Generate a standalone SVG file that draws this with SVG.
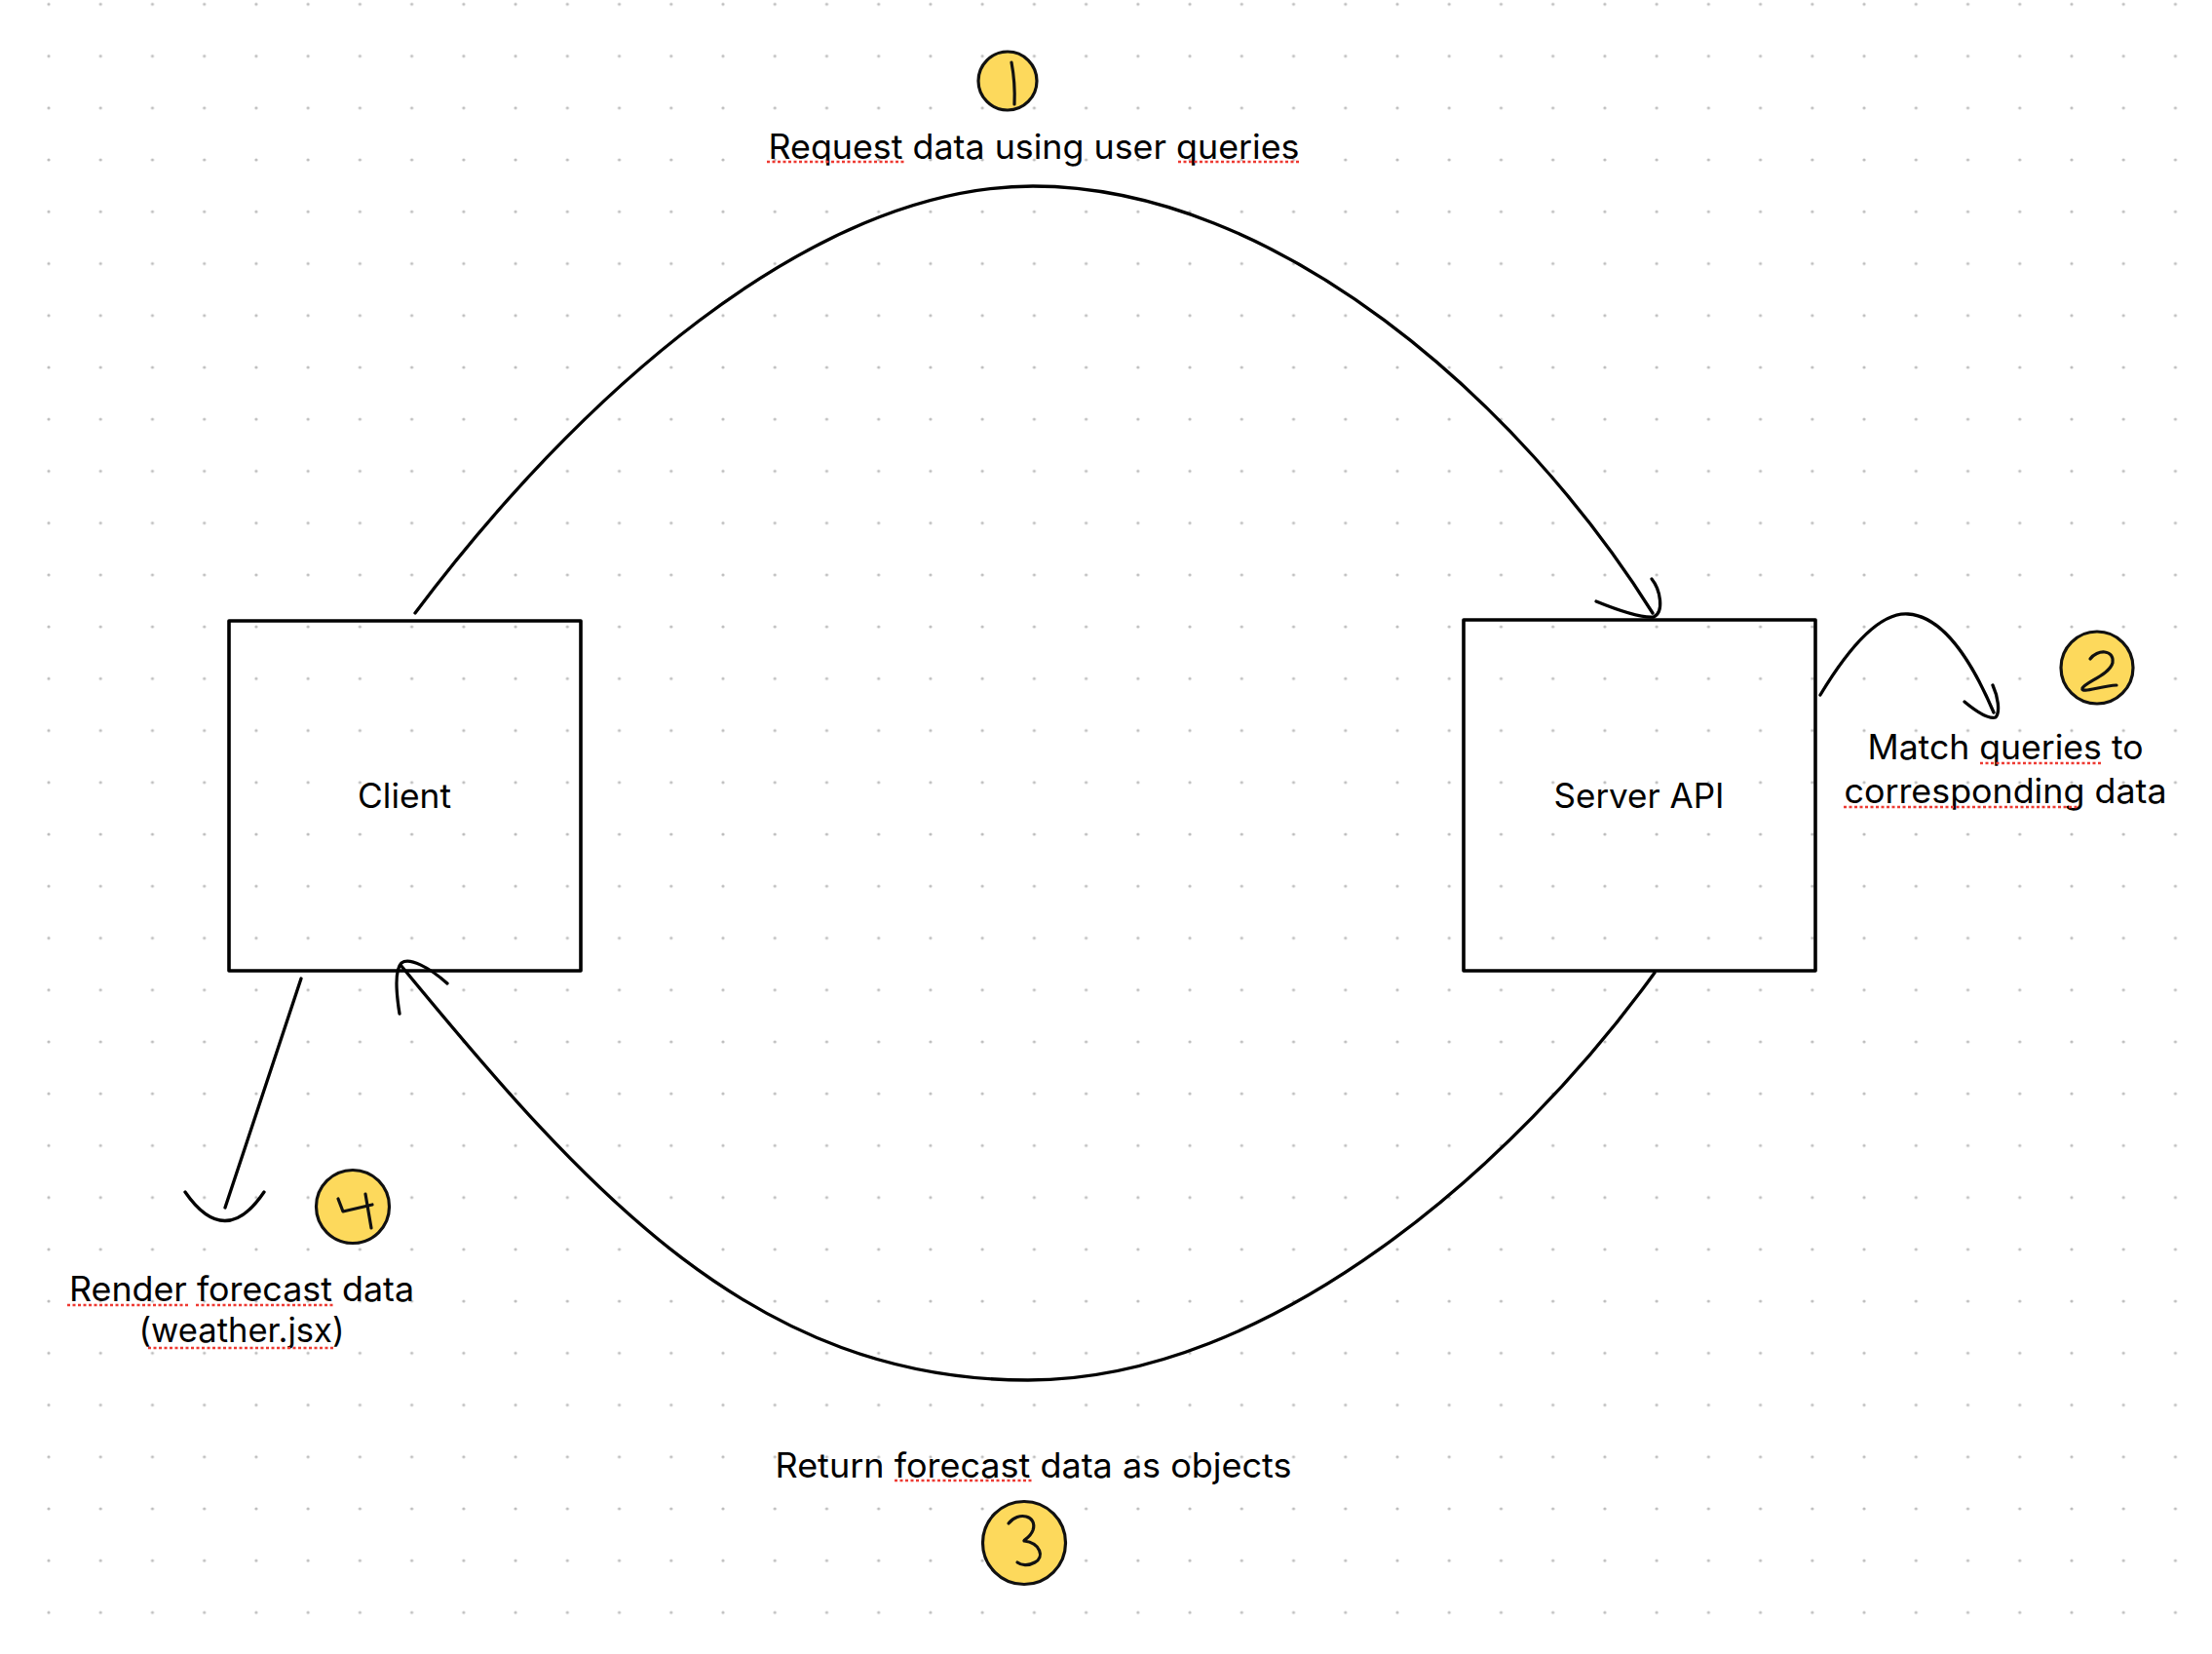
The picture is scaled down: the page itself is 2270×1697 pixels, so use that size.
<svg xmlns="http://www.w3.org/2000/svg" width="2270" height="1697" viewBox="0 0 2270 1697">
<style>
.box{fill:none;stroke:#000;stroke-width:3.6;stroke-linejoin:round}
.lbl{font-family:Inter,"Liberation Sans",Arial,sans-serif;font-size:35px;fill:#000;text-anchor:middle}
.conn{fill:none;stroke:#000;stroke-width:3.3;stroke-linecap:round;stroke-linejoin:round}
.badge{fill:#fdd95c;stroke:#111;stroke-width:3.2}
.digit{fill:none;stroke:#111;stroke-width:3.2;stroke-linecap:round;stroke-linejoin:round}
.spell{stroke:#ee3a32;stroke-width:2.5;stroke-dasharray:3 2.5}
</style>
<defs>
<pattern id="dots" patternUnits="userSpaceOnUse" x="23.385" y="-22.3" width="53.23" height="53.23">
<circle cx="26.615" cy="26.615" r="1.6" fill="#bdbdbd"/>
</pattern>
</defs>
<rect width="2270" height="1697" fill="#fff"/>
<rect width="2270" height="1697" fill="url(#dots)"/>

<g id="connectors">
<path class="conn" d="M426,629 C588,413 830,191 1060,191 C1310,191 1560,412 1696,629"/>
<path class="conn" d="M1638,617 C1665,628 1685,634 1697,633 C1708,628 1704,605 1695,594"/>
<path class="conn" d="M1868,713 C1900,660 1930,628 1958,630 C1990,632 2020,670 2046,731"/>
<path class="conn" d="M2016,720 C2028,730 2040,738 2048,736 C2053,730 2050,714 2045,703"/>
<path class="conn" d="M1698,998 C1556.8,1193.8 1305,1416 1055,1416 C775,1416 604,1225 411,990"/>
<path class="conn" d="M410,1040 C406,1015 405,995 412,988 C420,982 440,992 459,1009"/>
<path class="conn" d="M309,1004 L231,1239"/>
<path class="conn" d="M190,1223 Q231,1282 271,1223"/>
</g>

<g id="client">
<rect class="box" x="235" y="637" width="361" height="359"/>
<text class="lbl" x="415" y="829" textLength="96" lengthAdjust="spacingAndGlyphs">Client</text>
</g>

<g id="server">
<rect class="box" x="1502" y="636" width="361" height="360"/>
<text class="lbl" x="1682" y="829" textLength="175" lengthAdjust="spacingAndGlyphs">Server API</text>
</g>

<g id="step1">
<circle class="badge" cx="1034" cy="83" r="30"/>
<path class="digit" d="M1038,64 Q1042,85 1041,107"/>
<text class="lbl" x="1061" y="163" textLength="545" lengthAdjust="spacingAndGlyphs">Request data using user queries</text>
<line class="spell" x1="787" y1="166" x2="928" y2="166"/>
<line class="spell" x1="1209" y1="166" x2="1334" y2="166"/>
</g>

<g id="step2">
<circle class="badge" cx="2152" cy="685" r="37"/>
<path class="digit" d="M2145,676 C2152,666 2170,666 2168,680 C2165,692 2140,700 2137,706 C2135,712 2155,704 2172,703"/>
<text class="lbl" x="2058" y="779" textLength="283" lengthAdjust="spacingAndGlyphs">Match queries to</text>
<text class="lbl" x="2058" y="824" textLength="331" lengthAdjust="spacingAndGlyphs">corresponding data</text>
<line class="spell" x1="2032" y1="783" x2="2157" y2="783"/>
<line class="spell" x1="1892" y1="828" x2="2134" y2="828"/>
</g>

<g id="step3">
<circle class="badge" cx="1051" cy="1583" r="42.5"/>
<path class="digit" d="M1035,1563 C1045,1550 1065,1555 1060,1570 C1057,1578 1050,1580 1051,1581 C1068,1583 1072,1598 1062,1603 C1055,1607 1048,1606 1044,1603"/>
<text class="lbl" x="1060.5" y="1516" textLength="530" lengthAdjust="spacingAndGlyphs">Return forecast data as objects</text>
<line class="spell" x1="918" y1="1519" x2="1059" y2="1519"/>
</g>

<g id="step4">
<circle class="badge" cx="362" cy="1238" r="37.5"/>
<path class="digit" d="M347,1230 L352,1243 L382,1236"/>
<path class="digit" d="M375,1225 L381,1260"/>
<text class="lbl" x="248" y="1335" textLength="354" lengthAdjust="spacingAndGlyphs">Render forecast data</text>
<text class="lbl" x="248" y="1377" textLength="211" lengthAdjust="spacingAndGlyphs">(weather.jsx)</text>
<line class="spell" x1="69" y1="1339" x2="193" y2="1339"/>
<line class="spell" x1="201" y1="1339" x2="342" y2="1339"/>
<line class="spell" x1="152" y1="1383" x2="344" y2="1383"/>
</g>
</svg>
